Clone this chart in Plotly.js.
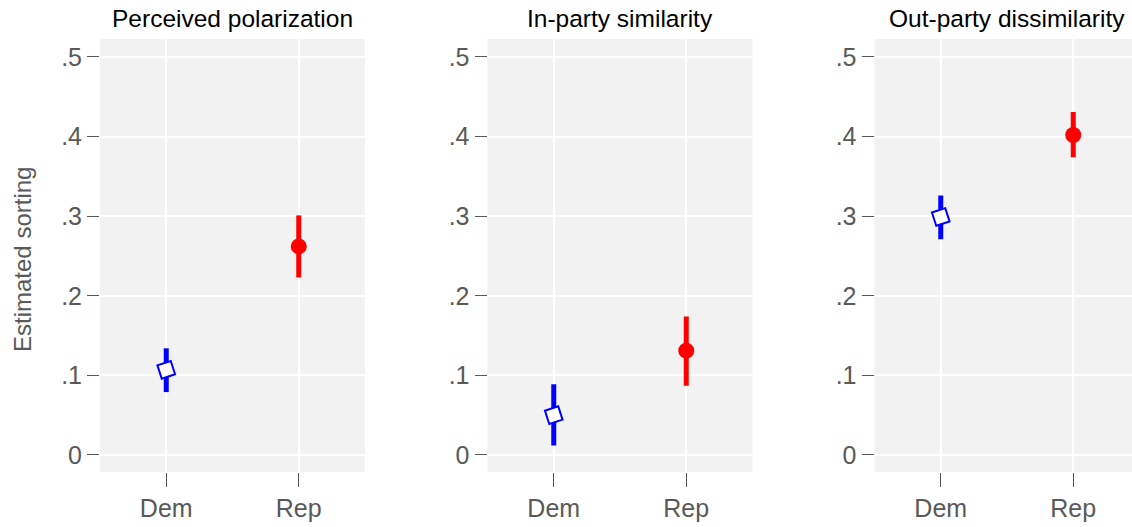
<!DOCTYPE html>
<html>
<head>
<meta charset="utf-8">
<script src="https://cdn.plot.ly/plotly-3.0.1.min.js"></script>
<style>html,body{margin:0;padding:0;background:#fff;}#chart{width:1132px;height:527px;}</style>
</head>
<body>
<div id="chart"></div>
<script>
// ---- data ----
const categories = ['Dem', 'Rep'];
const panelTitles = ['Perceived polarization', 'In-party similarity', 'Out-party dissimilarity'];
const demEstimate = [0.107, 0.050, 0.299];
const demLower    = [0.079, 0.012, 0.271];
const demUpper    = [0.134, 0.089, 0.326];
const repEstimate = [0.262, 0.131, 0.402];
const repLower    = [0.223, 0.087, 0.374];
const repUpper    = [0.301, 0.174, 0.431];
const yTickVals = [0, 0.1, 0.2, 0.3, 0.4, 0.5];
const yTickText = ['0', '.1', '.2', '.3', '.4', '.5'];
const yAxisTitle = 'Estimated sorting';

// ---- layout geometry (pixels) ----
const W = 1132, H = 527;
const panelLeft = [100, 487.5, 874.5];
const panelWidth = 265;
const plotTop = 39, plotBottom = 472;
const FONT = 'Liberation Sans, Arial, sans-serif';
const tickColor = '#595959';

const traces = [];
const layout = {
  width: W, height: H,
  margin: {l: 0, r: 0, t: 0, b: 0},
  paper_bgcolor: '#ffffff',
  plot_bgcolor: '#f2f2f2',
  showlegend: false,
  font: {family: FONT, color: tickColor},
  annotations: []
};

panelTitles.forEach((title, i) => {
  const n = i === 0 ? '' : String(i + 1);
  const xa = 'x' + n, ya = 'y' + n;
  const x0 = panelLeft[i], x1 = Math.min(x0 + panelWidth, W);
  const xr = [-0.5, -0.5 + 2 * (x1 - x0) / panelWidth];
  layout['xaxis' + n] = {
    domain: [x0 / W, x1 / W],
    anchor: ya,
    type: 'category',
    range: xr,
    fixedrange: true,
    showgrid: true, gridcolor: '#ffffff', gridwidth: 2,
    zeroline: false, showline: false,
    ticks: 'outside', ticklen: 14, tickwidth: 1, tickcolor: tickColor,
    tickfont: {family: FONT, size: 25, color: tickColor}
  };
  layout['yaxis' + n] = {
    domain: [1 - plotBottom / H, 1 - plotTop / H],
    anchor: xa,
    range: [-0.0214, 0.5226],
    fixedrange: true,
    tickmode: 'array', tickvals: yTickVals, ticktext: yTickText,
    showgrid: true, gridcolor: '#ffffff', gridwidth: 2,
    zeroline: false, showline: false,
    ticks: 'outside', ticklen: 12, tickwidth: 1, tickcolor: tickColor,
    tickfont: {family: FONT, size: 25, color: tickColor}
  };
  // Dem
  traces.push({
    type: 'scatter', mode: 'markers', xaxis: xa, yaxis: ya,
    x: [categories[0]], y: [demEstimate[i]],
    error_y: {type: 'data', symmetric: false,
      array: [demUpper[i] - demEstimate[i]],
      arrayminus: [demEstimate[i] - demLower[i]],
      color: '#0000ff', thickness: 5, width: 0},
    marker: {symbol: 'square', size: 14, angle: -18, color: '#ffffff',
      line: {color: '#0000ff', width: 2}},
    hoverinfo: 'skip'
  });
  // Rep
  traces.push({
    type: 'scatter', mode: 'markers', xaxis: xa, yaxis: ya,
    x: [categories[1]], y: [repEstimate[i]],
    error_y: {type: 'data', symmetric: false,
      array: [repUpper[i] - repEstimate[i]],
      arrayminus: [repEstimate[i] - repLower[i]],
      color: '#ff0000', thickness: 5, width: 0},
    marker: {symbol: 'circle', size: 16, color: '#ff0000', line: {width: 0}},
    hoverinfo: 'skip'
  });
  layout.annotations.push({
    text: title, showarrow: false,
    xref: 'paper', yref: 'paper',
    x: (x0 + panelWidth / 2) / W, xanchor: 'center',
    y: 1 - 19 / H, yanchor: 'middle',
    font: {family: FONT, size: 24.5, color: '#000000'}
  });
});

layout.annotations.push({
  text: yAxisTitle, showarrow: false, textangle: -90,
  xref: 'paper', yref: 'paper',
  x: 22 / W, xanchor: 'center',
  y: 1 - 260 / H, yanchor: 'middle',
  font: {family: FONT, size: 24, color: tickColor}
});

Plotly.newPlot('chart', traces, layout, {staticPlot: true, displayModeBar: false});
</script>
</body>
</html>
